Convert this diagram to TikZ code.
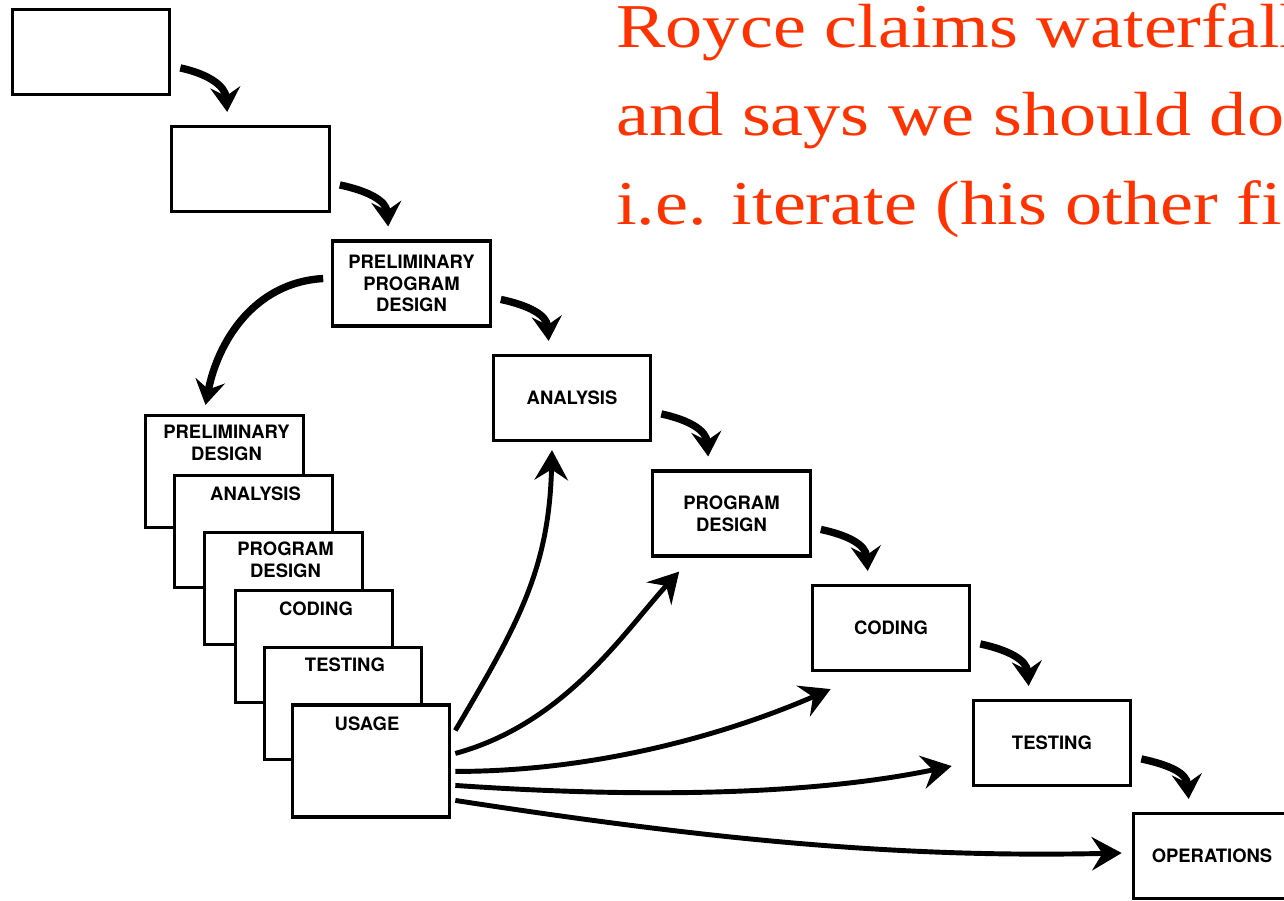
\documentclass[tikz,border=0pt]{standalone}
\usepackage{fontspec}
\usetikzlibrary{arrows.meta,calc}
\newfontfamily\boxfont{TeX Gyre Heros}
\newfontfamily\notefont[FakeStretch=1.19]{Liberation Serif}
\definecolor{notered}{RGB}{255,51,0}

\begin{document}
\begin{tikzpicture}[x=0.02cm,y=-0.02cm,
    box/.style={draw,line width=1.8pt,fill=white,minimum width=3.15cm,minimum height=1.7cm,
        inner sep=0pt,align=center,font=\boxfont\bfseries\fontsize{10.5}{12.4}\selectfont},
    stackbox/.style={box,minimum height=2.24cm},
    lbl/.style={inner sep=0pt,align=center,font=\boxfont\bfseries\fontsize{10.5}{12.4}\selectfont},
    note/.style={inner sep=0pt,text=notered,font=\notefont\fontsize{35.5}{50}\selectfont},
    fall/.style={line width=4.2pt,-{Stealth[length=14pt,width=17pt,inset=5pt]}},
    back/.style={line width=2.8pt,-{Stealth[length=17pt,width=19pt,inset=6pt]}}]
        \useasboundingbox (0,0) rectangle (1284,900);
        \clip (0,0) rectangle (1284,900);

        % The waterfall boxes
        \node[box] (b1) at (91,52) {};
        \node[box] (b2) at (250.5,169) {};
        \node[box] (b3) at (411.5,283.5) {PRELIMINARY\\PROGRAM\\DESIGN};
        \node[box] (b4) at (572,398) {ANALYSIS};
        \node[box] (b5) at (731.5,513.5) {PROGRAM\\DESIGN};
        \node[box] (b6) at (891,628) {CODING};
        \node[box] (b7) at (1052,743) {TESTING};
        \node[box] (b8) at (1212,856) {OPERATIONS};

        % The stack of steps done first
        \node[stackbox] (s1) at (224.5,471.5) {};
        \node[lbl,anchor=north] (s1t) at ($(s1.north)+(2,11)$) {PRELIMINARY\\DESIGN};
        \node[stackbox] (s2) at (253.5,531.5) {};
        \node[lbl,anchor=north] (s2t) at ($(s2.north)+(2,13)$) {ANALYSIS};
        \node[stackbox] (s3) at (283.5,588.5) {};
        \node[lbl,anchor=north] (s3t) at ($(s3.north)+(2,11)$) {PROGRAM\\DESIGN};
        \node[stackbox] (s4) at (314,646.5) {};
        \node[lbl,anchor=north] (s4t) at ($(s4.north)+(2,13)$) {CODING};
        \node[stackbox] (s5) at (343,703.5) {};
        \node[lbl,anchor=north] (s5t) at ($(s5.north)+(2,12)$) {TESTING};
        \node[stackbox] (s6) at (371,761) {};
        \node[lbl,anchor=north] (s6t) at ($(s6.north)+(-4,13)$) {USAGE};

        % Red note
        \node[note,anchor=base west] (n1) at (616,47) {Royce claims waterfall};
        \node[note,anchor=base west] (n2) at (616,135) {and says we should do};
        \node[note,anchor=base west] (n3) at (616,224) {i.e. iterate (his other fi};

        % Steps down the waterfall
        \foreach \a/\b in {b1/b2,b2/b3,b3/b4,b4/b5,b5/b6,b6/b7,b7/b8}
            \draw[fall] ($(\a.north east)+(9,60)$) .. controls +(28,6) and +(-2,-26) .. ($(\b.north west)+(57,-13)$);

        % Do it twice
        \draw[fall] ($(b3.west)+(-8,-5)$) .. controls +(-70,4) and +(12,-62) .. ($(s1.north)+(-19,-9)$);

        % Feedback from usage
        \draw[back] ($(s6.north east)+(4,27)$) .. controls +(62,-105) and +(-3,120) .. ($(b4.south)+(-20,8)$);
        \draw[back] ($(s6.north east)+(4,50)$) .. controls +(110,-30) and +(-55,60) .. ($(b5.south west)+(28,14)$);
        \draw[back] ($(s6.north east)+(4,68)$) .. controls +(160,0) and +(-80,35) .. ($(b6.south west)+(20,17)$);
        \draw[back] ($(s6.north east)+(4,82)$) .. controls +(220,15) and +(-120,25) .. ($(b7.west)+(-20,23)$);
        \draw[back] ($(s6.north east)+(4,97)$) .. controls +(260,40) and +(-220,5) .. ($(b8.west)+(-10,-3)$);

\end{tikzpicture}
\end{document}
